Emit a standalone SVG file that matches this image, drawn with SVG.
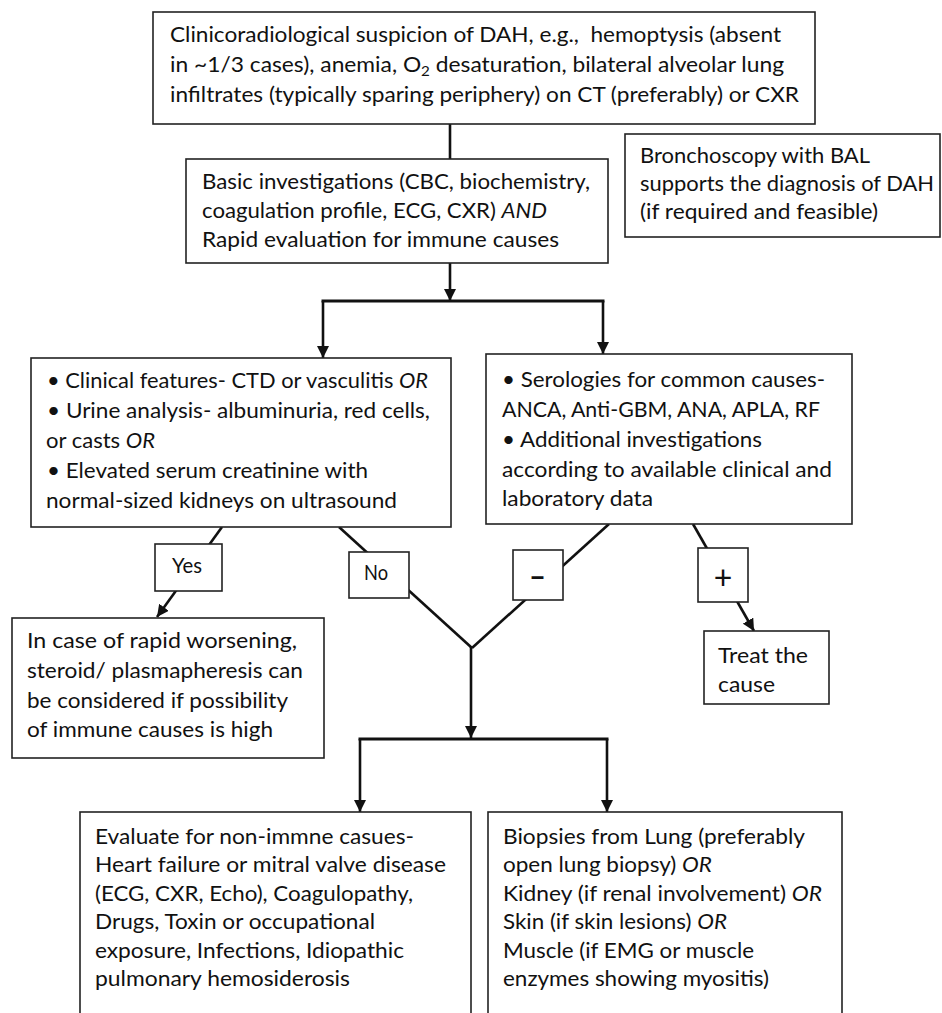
<svg xmlns="http://www.w3.org/2000/svg" width="942" height="1013" viewBox="0 0 942 1013">
<style>
.box{fill:#fff;stroke:#222;stroke-width:1.6}
.t{font-family:Lato,"Open Sans","Liberation Sans",sans-serif;font-size:21px;fill:#111}
.i{font-style:italic}
.c{fill:none;stroke:#111;stroke-width:2.6}
.tl{fill:none;stroke:#111;stroke-width:3;stroke-linecap:square}
.ca{fill:none;stroke:#111;stroke-width:2.6;marker-end:url(#ah)}
</style>
<defs>
<marker id="ah" markerUnits="userSpaceOnUse" markerWidth="12" markerHeight="12" viewBox="0 0 12 12" refX="12" refY="6" orient="auto"><path d="M0,0 L12,6 L0,12 z" fill="#111"/></marker>
</defs>
<rect width="942" height="1013" fill="#fff"/>
<g id="connectors">
<path class="c" d="M450,124 V159"/>
<path class="ca" d="M450,263 V301"/>
<path class="tl" d="M323,301 H603"/>
<path class="ca" d="M323,301 V358"/>
<path class="ca" d="M603,301 V354"/>
<path class="ca" d="M222,527 L157,617"/>
<path class="c" d="M339,527 L472,648"/>
<path class="c" d="M609,524 L472,648"/>
<path class="ca" d="M693,524 L754,631"/>
<path class="ca" d="M471,647 V738"/>
<path class="tl" d="M360,739 H607"/>
<path class="ca" d="M360,739 V812"/>
<path class="ca" d="M607,739 V812"/>
</g>
<g id="suspicion">
<rect class="box" x="153" y="12" width="662" height="112"/>
<text class="t" x="170" y="42" xml:space="preserve" textLength="611" lengthAdjust="spacingAndGlyphs">Clinicoradiological suspicion of DAH, e.g.,  hemoptysis (absent</text>
<text class="t" x="170" y="72" textLength="614" lengthAdjust="spacingAndGlyphs">in ~1/3 cases), anemia, O<tspan dy="4" style="font-size:14px">2</tspan><tspan dy="-4"> desaturation, bilateral alveolar lung</tspan></text>
<text class="t" x="170" y="102" textLength="629" lengthAdjust="spacingAndGlyphs">infiltrates (typically sparing periphery) on CT (preferably) or CXR</text>
</g>
<g id="bal">
<rect class="box" x="625" y="134" width="315" height="103"/>
<text class="t" x="640" y="163" textLength="230" lengthAdjust="spacingAndGlyphs">Bronchoscopy with BAL</text>
<text class="t" x="640" y="191" textLength="294" lengthAdjust="spacingAndGlyphs">supports the diagnosis of DAH</text>
<text class="t" x="640" y="219" textLength="238" lengthAdjust="spacingAndGlyphs">(if required and feasible)</text>
</g>
<g id="basic">
<rect class="box" x="186" y="159" width="422" height="104"/>
<text class="t" x="202" y="189" textLength="388" lengthAdjust="spacingAndGlyphs">Basic investigations (CBC, biochemistry,</text>
<text class="t" x="202" y="218" textLength="345" lengthAdjust="spacingAndGlyphs">coagulation profile, ECG, CXR) <tspan class="i">AND</tspan></text>
<text class="t" x="202" y="247" textLength="357" lengthAdjust="spacingAndGlyphs">Rapid evaluation for immune causes</text>
</g>
<g id="clinical">
<rect class="box" x="31" y="358" width="420" height="169"/>
<text class="t" x="47" y="388" textLength="381" lengthAdjust="spacingAndGlyphs">• Clinical features- CTD or vasculitis <tspan class="i">OR</tspan></text>
<text class="t" x="47" y="418" textLength="383" lengthAdjust="spacingAndGlyphs">• Urine analysis- albuminuria, red cells,</text>
<text class="t" x="46" y="448" textLength="109" lengthAdjust="spacingAndGlyphs">or casts <tspan class="i">OR</tspan></text>
<text class="t" x="47" y="478" textLength="321" lengthAdjust="spacingAndGlyphs">• Elevated serum creatinine with</text>
<text class="t" x="46" y="508" textLength="351" lengthAdjust="spacingAndGlyphs">normal-sized kidneys on ultrasound</text>
</g>
<g id="serologies">
<rect class="box" x="486" y="354" width="366" height="170"/>
<text class="t" x="502" y="387" textLength="323" lengthAdjust="spacingAndGlyphs">• Serologies for common causes-</text>
<text class="t" x="502" y="417" textLength="318" lengthAdjust="spacingAndGlyphs">ANCA, Anti-GBM, ANA, APLA, RF</text>
<text class="t" x="502" y="447" textLength="260" lengthAdjust="spacingAndGlyphs">• Additional investigations</text>
<text class="t" x="502" y="477" textLength="330" lengthAdjust="spacingAndGlyphs">according to available clinical and</text>
<text class="t" x="502" y="506" textLength="151" lengthAdjust="spacingAndGlyphs">laboratory data</text>
</g>
<g id="yes">
<rect class="box" x="155" y="544" width="67" height="47"/>
<text class="t" x="172" y="573" textLength="30" lengthAdjust="spacingAndGlyphs">Yes</text>
</g>
<g id="no">
<rect class="box" x="349" y="552" width="60" height="46"/>
<text class="t" x="364" y="580" textLength="24" lengthAdjust="spacingAndGlyphs">No</text>
</g>
<g id="negative">
<rect class="box" x="513" y="550" width="50" height="50"/>
<text class="t" x="529" y="587" style="font-size:30px;font-weight:bold" textLength="17" lengthAdjust="spacingAndGlyphs">–</text>
</g>
<g id="positive">
<rect class="box" x="698" y="548" width="50" height="54"/>
<text class="t" x="723" y="589" text-anchor="middle" style="font-size:32px">+</text>
</g>
<g id="treat">
<rect class="box" x="704" y="631" width="125" height="73"/>
<text class="t" x="718" y="663" textLength="90" lengthAdjust="spacingAndGlyphs">Treat the</text>
<text class="t" x="718" y="692" textLength="57" lengthAdjust="spacingAndGlyphs">cause</text>
</g>
<g id="rapid">
<rect class="box" x="12" y="618" width="312" height="140"/>
<text class="t" x="27" y="648" textLength="270" lengthAdjust="spacingAndGlyphs">In case of rapid worsening,</text>
<text class="t" x="27" y="678" textLength="276" lengthAdjust="spacingAndGlyphs">steroid/ plasmapheresis can</text>
<text class="t" x="27" y="708" textLength="261" lengthAdjust="spacingAndGlyphs">be considered if possibility</text>
<text class="t" x="27" y="737" textLength="246" lengthAdjust="spacingAndGlyphs">of immune causes is high</text>
</g>
<g id="nonimmune">
<rect class="box" x="80" y="812" width="391" height="230"/>
<text class="t" x="95" y="844" textLength="319" lengthAdjust="spacingAndGlyphs">Evaluate for non-immne casues-</text>
<text class="t" x="95" y="872" textLength="351" lengthAdjust="spacingAndGlyphs">Heart failure or mitral valve disease</text>
<text class="t" x="95" y="901" textLength="318" lengthAdjust="spacingAndGlyphs">(ECG, CXR, Echo), Coagulopathy,</text>
<text class="t" x="95" y="929" textLength="280" lengthAdjust="spacingAndGlyphs">Drugs, Toxin or occupational</text>
<text class="t" x="95" y="958" textLength="309" lengthAdjust="spacingAndGlyphs">exposure, Infections, Idiopathic</text>
<text class="t" x="95" y="986" textLength="255" lengthAdjust="spacingAndGlyphs">pulmonary hemosiderosis</text>
</g>
<g id="biopsies">
<rect class="box" x="488" y="812" width="354" height="230"/>
<text class="t" x="503" y="844" textLength="302" lengthAdjust="spacingAndGlyphs">Biopsies from Lung (preferably</text>
<text class="t" x="503" y="872" textLength="209" lengthAdjust="spacingAndGlyphs">open lung biopsy) <tspan class="i">OR</tspan></text>
<text class="t" x="503" y="901" textLength="319" lengthAdjust="spacingAndGlyphs">Kidney (if renal involvement) <tspan class="i">OR</tspan></text>
<text class="t" x="503" y="929" textLength="224" lengthAdjust="spacingAndGlyphs">Skin (if skin lesions) <tspan class="i">OR</tspan></text>
<text class="t" x="503" y="958" textLength="251" lengthAdjust="spacingAndGlyphs">Muscle (if EMG or muscle</text>
<text class="t" x="503" y="986" textLength="266" lengthAdjust="spacingAndGlyphs">enzymes showing myositis)</text>
</g>
</svg>
